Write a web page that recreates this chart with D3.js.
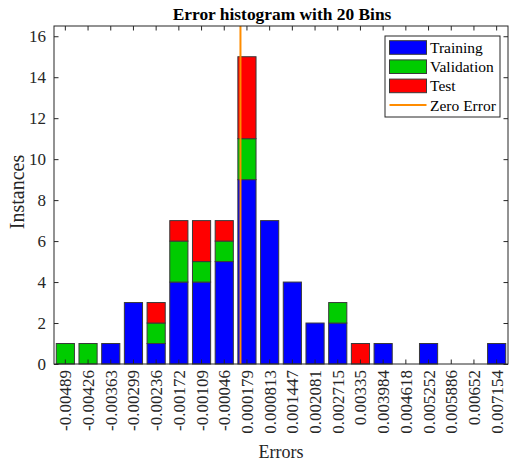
<!DOCTYPE html>
<html>
<head>
<meta charset="utf-8">
<script src="https://cdn.jsdelivr.net/npm/d3@7"></script>
<style>
  html, body { margin: 0; padding: 0; background: #fff; }
  svg { display: block; font-family: "Liberation Serif", "Times New Roman", serif; }
</style>
</head>
<body>
<svg id="chart" width="509" height="462"></svg>
<script>
// Bin centres (error values) and their printed labels
const binCenters = [-0.00489, -0.00426, -0.00363, -0.00299, -0.00236, -0.00172, -0.00109, -0.00046,
  0.000179, 0.000813, 0.001447, 0.002081, 0.002715, 0.00335, 0.003984, 0.004618, 0.005252, 0.005886, 0.00652, 0.007154];
const binLabels = ["-0.00489", "-0.00426", "-0.00363", "-0.00299", "-0.00236", "-0.00172", "-0.00109", "-0.00046",
  "0.000179", "0.000813", "0.001447", "0.002081", "0.002715", "0.00335", "0.003984", "0.004618", "0.005252", "0.005886", "0.00652", "0.007154"];

// Instance counts per bin for each data split
const training   = [0, 0, 1, 3, 1, 4, 4, 5, 9, 7, 4, 2, 2, 0, 1, 0, 1, 0, 0, 1];
const validation = [1, 1, 0, 0, 1, 2, 1, 1, 2, 0, 0, 0, 1, 0, 0, 0, 0, 0, 0, 0];
const test       = [0, 0, 0, 0, 1, 1, 2, 1, 4, 0, 0, 0, 0, 1, 0, 0, 0, 0, 0, 0];

const seriesNames = ["Training", "Validation", "Test"];
const yTicks = [0, 2, 4, 6, 8, 10, 12, 14, 16];
const zeroError = 0;

const colors = { Training: "#0000ff", Validation: "#00cc00", Test: "#ff0000" };
const zeroColor = "#ff8c00";
const axisColor = "#262626";
const edgeColor = "#3a3a3a";

const svg = d3.select("#chart");
const m = { left: 54, right: 508, top: 26, bottom: 364 };

const rows = binLabels.map((lab, i) => ({
  label: lab, Training: training[i], Validation: validation[i], Test: test[i]
}));
const stacked = d3.stack().keys(seriesNames)(rows);

const x = d3.scaleBand().domain(binLabels).range([m.left, m.right]).padding(0);
const y = d3.scaleLinear().domain([0, 16.5]).range([m.bottom, m.top]);
const barW = x.bandwidth() * 0.8;

// Continuous error axis aligned with the bin centres, used for the zero line
const xErr = d3.scaleLinear()
  .domain([binCenters[0], binCenters[binCenters.length - 1]])
  .range([x(binLabels[0]) + x.bandwidth() / 2, x(binLabels[binLabels.length - 1]) + x.bandwidth() / 2]);

// Stacked bars
svg.append("g").selectAll("g")
  .data(stacked)
  .join("g")
  .attr("fill", d => colors[d.key])
  .selectAll("rect")
  .data(d => d.filter(s => s[1] - s[0] > 0))
  .join("rect")
  .attr("x", d => x(d.data.label) + (x.bandwidth() - barW) / 2)
  .attr("width", barW)
  .attr("y", d => y(d[1]))
  .attr("height", d => y(d[0]) - y(d[1]))
  .attr("stroke", edgeColor)
  .attr("stroke-width", 1);

// Zero error line
svg.append("line")
  .attr("x1", xErr(zeroError)).attr("x2", xErr(zeroError))
  .attr("y1", m.top).attr("y2", m.bottom)
  .attr("stroke", zeroColor).attr("stroke-width", 2);

// Axes with inward ticks on all four sides
const tickLen = 4.5;
const gLeft = svg.append("g").attr("transform", `translate(${m.left},0)`)
  .call(d3.axisLeft(y).tickValues(yTicks).tickSizeInner(-tickLen).tickSizeOuter(0).tickPadding(8));
const gRight = svg.append("g").attr("transform", `translate(${m.right},0)`)
  .call(d3.axisRight(y).tickValues(yTicks).tickSizeInner(-tickLen).tickSizeOuter(0).tickFormat(""));
const gTop = svg.append("g").attr("transform", `translate(0,${m.top})`)
  .call(d3.axisTop(x).tickSizeInner(-tickLen).tickSizeOuter(0).tickFormat(""));
const gBottom = svg.append("g").attr("transform", `translate(0,${m.bottom})`)
  .call(d3.axisBottom(x).tickSizeInner(-tickLen).tickSizeOuter(0).tickPadding(6));

[gLeft, gRight, gTop, gBottom].forEach(g => {
  g.select(".domain").remove();
  g.selectAll(".tick line").attr("stroke", axisColor);
  g.selectAll("text").attr("fill", axisColor).style("font-family", "Liberation Serif, serif");
});
gLeft.selectAll("text").style("font-size", "17px");
gBottom.selectAll("text")
  .style("font-size", "17px")
  .attr("text-anchor", "end")
  .attr("dy", "0.35em")
  .attr("transform", "rotate(-90)")
  .attr("x", -6)
  .attr("y", 0);

// Plot box
svg.append("rect")
  .attr("x", m.left).attr("y", m.top)
  .attr("width", m.right - m.left).attr("height", m.bottom - m.top)
  .attr("fill", "none").attr("stroke", axisColor).attr("stroke-width", 1);

// Title and axis labels
svg.append("text")
  .attr("x", 282).attr("y", 20)
  .attr("text-anchor", "middle")
  .style("font-size", "17.4px").style("font-weight", "bold")
  .attr("fill", "#000")
  .text("Error histogram with 20 Bins");

svg.append("text")
  .attr("x", 281).attr("y", 458)
  .attr("text-anchor", "middle")
  .style("font-size", "18px")
  .attr("fill", axisColor)
  .text("Errors");

svg.append("text")
  .attr("transform", "translate(24,192) rotate(-90)")
  .attr("text-anchor", "middle")
  .style("font-size", "20px")
  .attr("fill", axisColor)
  .text("Instances");

// Legend
const legend = svg.append("g");
legend.append("rect")
  .attr("x", 385).attr("y", 36).attr("width", 115).attr("height", 81)
  .attr("fill", "#fff").attr("stroke", axisColor).attr("stroke-width", 1);

const legendItems = seriesNames.concat(["Zero Error"]);
const rowH = 19.2;
legendItems.forEach((name, i) => {
  const cy = 47.5 + i * rowH;
  if (name === "Zero Error") {
    legend.append("line")
      .attr("x1", 389.5).attr("x2", 426.5).attr("y1", cy).attr("y2", cy)
      .attr("stroke", zeroColor).attr("stroke-width", 2);
  } else {
    legend.append("rect")
      .attr("x", 389.5).attr("y", cy - 6.8).attr("width", 37).attr("height", 13.6)
      .attr("fill", colors[name]).attr("stroke", edgeColor).attr("stroke-width", 1);
  }
  legend.append("text")
    .attr("x", 430).attr("y", cy + 5.5)
    .style("font-size", "15.5px")
    .attr("fill", "#000")
    .text(name);
});
</script>
</body>
</html>
